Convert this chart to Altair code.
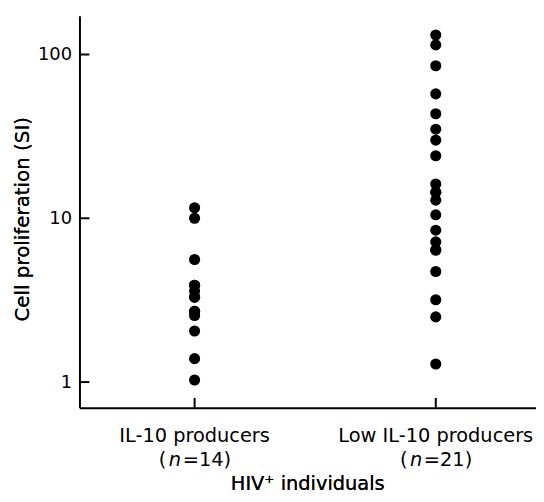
import altair as alt
import pandas as pd

# ---- data ----
groups = ["IL-10 producers", "Low IL-10 producers"]
n_labels = ["=14)", "=21)"]

il10_values = [11.6, 10.0, 5.6, 3.9, 3.9, 3.6, 3.3, 3.3, 2.7, 2.7, 2.55, 2.05, 1.39, 1.03]
low_values = [131.6, 114.5, 85.4, 57.5, 43.5, 35.0, 30.0, 24.1, 16.2, 14.4, 14.4,
              12.9, 10.5, 8.46, 7.18, 6.4, 6.4, 4.73, 3.18, 2.5, 1.29]

y_ticks = [1, 10, 100]
y_title = "Cell proliferation (SI)"
x_title = "HIV\u207a individuals"

FONT = "DejaVu Sans"
FS_TICK = 18
FS_LAB = 19.5
FS_TITLE = 20

points = pd.DataFrame(
    {"gi": [0] * len(il10_values) + [1] * len(low_values),
     "si": il10_values + low_values}
)
cats = pd.DataFrame({"gi": [0, 1], "group": groups, "nlab": n_labels})
yt = pd.DataFrame({"v": y_ticks})

W, H = 460, 395
# category 0 sits 116 px from the left axis, category 1 is 243 px further right
xscale = alt.Scale(domain=[-116 / 243, (W - 116) / 243], nice=False, zero=False)
yscale = alt.Scale(type="log", domain=[0.696, 172.3], nice=False)

xaxis = alt.Axis(labels=False, ticks=False, title=None, domainColor="black",
                 domainWidth=2, grid=False)
yaxis = alt.Axis(values=y_ticks, format="d", ticks=False, grid=False, title=None,
                 domainColor="black", domainWidth=2, labelPadding=8,
                 labelFont=FONT, labelFontSize=FS_TICK, labelColor="black")


def X(field):
    return alt.X(field, scale=xscale, axis=xaxis)


pts = alt.Chart(points).mark_circle(size=125, color="black", opacity=1).encode(
    x=X("gi:Q"),
    y=alt.Y("si:Q", scale=yscale, axis=yaxis),
)

yticks = alt.Chart(yt).mark_rule(color="black", strokeWidth=2).encode(
    y=alt.Y("v:Q", scale=yscale, axis=yaxis),
    x=alt.value(0), x2=alt.value(10),
)

xticks = alt.Chart(cats).mark_rule(color="black", strokeWidth=2).encode(
    x=X("gi:Q"),
    y=alt.value(H - 10), y2=alt.value(H),
)

line1 = alt.Chart(cats).mark_text(font=FONT, fontSize=FS_LAB, color="black",
                                  align="center", baseline="alphabetic").encode(
    x=X("gi:Q"), y=alt.value(429), text="group:N")

paren = alt.Chart(cats).mark_text(font=FONT, fontSize=FS_LAB, color="black",
                                  align="left", baseline="alphabetic", dx=-36).encode(
    x=X("gi:Q"), y=alt.value(454), text=alt.value("("))
nital = alt.Chart(cats).mark_text(font=FONT, fontSize=FS_LAB, color="black", fontStyle="italic",
                                  align="left", baseline="alphabetic", dx=-26).encode(
    x=X("gi:Q"), y=alt.value(454), text=alt.value("n"))
rest = alt.Chart(cats).mark_text(font=FONT, fontSize=FS_LAB, color="black",
                                 align="left", baseline="alphabetic", dx=-12).encode(
    x=X("gi:Q"), y=alt.value(454), text="nlab:N")

xtitle = alt.Chart(cats).mark_text(font=FONT, fontSize=FS_LAB, color="black",
                                   align="center", baseline="alphabetic").encode(
    x=alt.value(W / 2), y=alt.value(478), text=alt.value(x_title))

ytitle = alt.Chart(cats).mark_text(font=FONT, fontSize=FS_TITLE, color="black", angle=270,
                                   align="center", baseline="middle").encode(
    x=alt.value(-57), y=alt.value(205), text=alt.value(y_title))

chart = alt.layer(pts, yticks, xticks, line1, paren, nital, rest, xtitle, ytitle).properties(
    width=W, height=H,
    background="white",
    autosize=alt.AutoSizeParams(type="none"),
    padding={"left": 72, "top": 6, "right": 0, "bottom": 93},
).configure_view(stroke=None)

chart.save("out.html", embed_options={"renderer": "svg", "actions": False})
